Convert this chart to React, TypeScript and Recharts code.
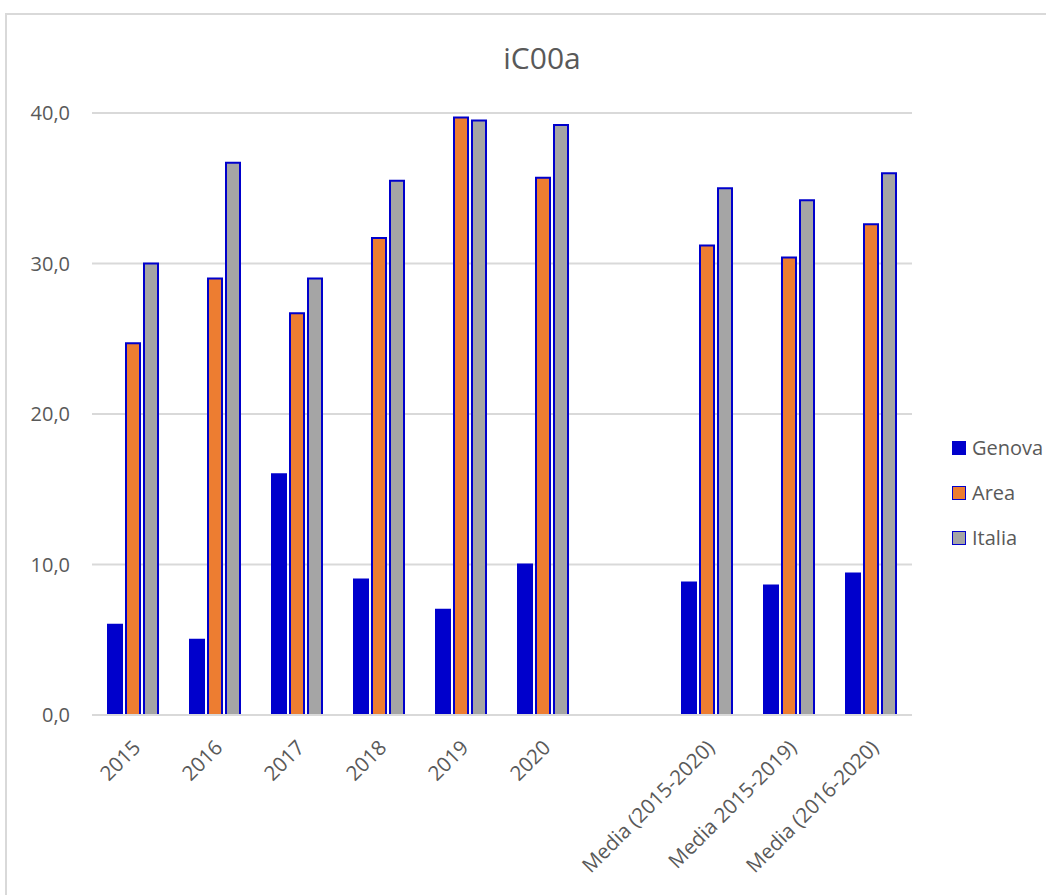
import React from 'react';
import { BarChart, Bar, XAxis, YAxis, CartesianGrid, Legend } from 'recharts';

const categories = ['2015', '2016', '2017', '2018', '2019', '2020', '', 'Media (2015-2020)', 'Media 2015-2019)', 'Media (2016-2020)'];
const genova = [6.0, 5.0, 16.0, 9.0, 7.0, 10.0, null, 8.8, 8.6, 9.4];
const area = [24.7, 29.0, 26.7, 31.7, 39.7, 35.7, null, 31.2, 30.4, 32.6];
const italia = [30.0, 36.7, 29.0, 35.5, 39.5, 39.2, null, 35.0, 34.2, 36.0];
const yTicks = [0, 10, 20, 30, 40];

const seriesInfo = [
  { key: 'Genova', fill: '#0000CC', stroke: '#0000CC' },
  { key: 'Area', fill: '#ED7D31', stroke: '#0000CC' },
  { key: 'Italia', fill: '#A5A5A5', stroke: '#0000CC' },
];

const data = categories.map((c, i) => ({
  name: c,
  Genova: genova[i],
  Area: area[i],
  Italia: italia[i],
}));

const FONT = '"Open Sans", "Noto Sans", sans-serif';
const TEXT = '#595959';

const XTick = (props: any) => {
  const { x, y, payload } = props;
  return (
    <text
      transform={`translate(${x - 2},${y + 15}) rotate(-45)`}
      textAnchor="end"
      dy="0.75em"
      fontSize={20.5}
      fill={TEXT}
      fontFamily={FONT}
    >
      {payload.value}
    </text>
  );
};

const YTick = (props: any) => {
  const { x, y, payload } = props;
  return (
    <text
      x={x}
      y={y}
      textAnchor="end"
      dy="0.36em"
      fontSize={20}
      fill={TEXT}
      fontFamily={FONT}
    >
      {Number(payload.value).toFixed(1).replace('.', ',')}
    </text>
  );
};

const LegendContent = () => (
  <div style={{ fontFamily: FONT, fontSize: 20, color: TEXT }}>
    {seriesInfo.map((s) => (
      <div key={s.key} style={{ display: 'flex', alignItems: 'center', height: 45 }}>
        <div
          style={{
            width: 12,
            height: 12,
            background: s.fill,
            border: `1.5px solid ${s.stroke}`,
            marginRight: 6,
          }}
        />
        <span>{s.key}</span>
      </div>
    ))}
  </div>
);

export default function App() {
  return (
    <div style={{ position: 'absolute', left: 0, top: 0, width: 1046, height: 895, overflow: 'hidden', background: '#fff' }}>
      <div
        style={{
          position: 'absolute',
          left: 5,
          top: 13,
          width: 1200,
          height: 1200,
          border: '2px solid #d9d9d9',
        }}
      />
      <div
        style={{
          position: 'absolute',
          left: 442,
          width: 200,
          top: 38,
          textAlign: 'center',
          fontFamily: FONT,
          fontSize: 30,
          lineHeight: '40px',
          color: TEXT,
        }}
      >
        iC00a
      </div>
      <div style={{ position: 'absolute', left: 0, top: 0 }}>
        <BarChart
          width={1046}
          height={895}
          data={data}
          margin={{ top: 113, right: 34, bottom: 0, left: 0 }}
          barCategoryGap={16}
          barGap={4}
          barSize={14}
        >
          <CartesianGrid vertical={false} stroke="#d9d9d9" strokeWidth={2} />
          <XAxis
            dataKey="name"
            interval={0}
            tick={<XTick />}
            tickLine={false}
            axisLine={{ stroke: '#d9d9d9', strokeWidth: 2 }}
            height={180}
          />
          <YAxis
            width={92}
            domain={[0, 40]}
            ticks={yTicks}
            axisLine={false}
            tickLine={false}
            tickSize={0}
            tickMargin={22}
            tick={<YTick />}
          />
          <Legend
            layout="vertical"
            verticalAlign="top"
            align="right"
            content={<LegendContent />}
            wrapperStyle={{ left: 952, top: 425, width: 100 }}
          />
          {seriesInfo.map((s) => (
            <Bar
              key={s.key}
              dataKey={s.key}
              fill={s.fill}
              stroke={s.stroke}
              strokeWidth={2}
              isAnimationActive={false}
            />
          ))}
        </BarChart>
      </div>
    </div>
  );
}
